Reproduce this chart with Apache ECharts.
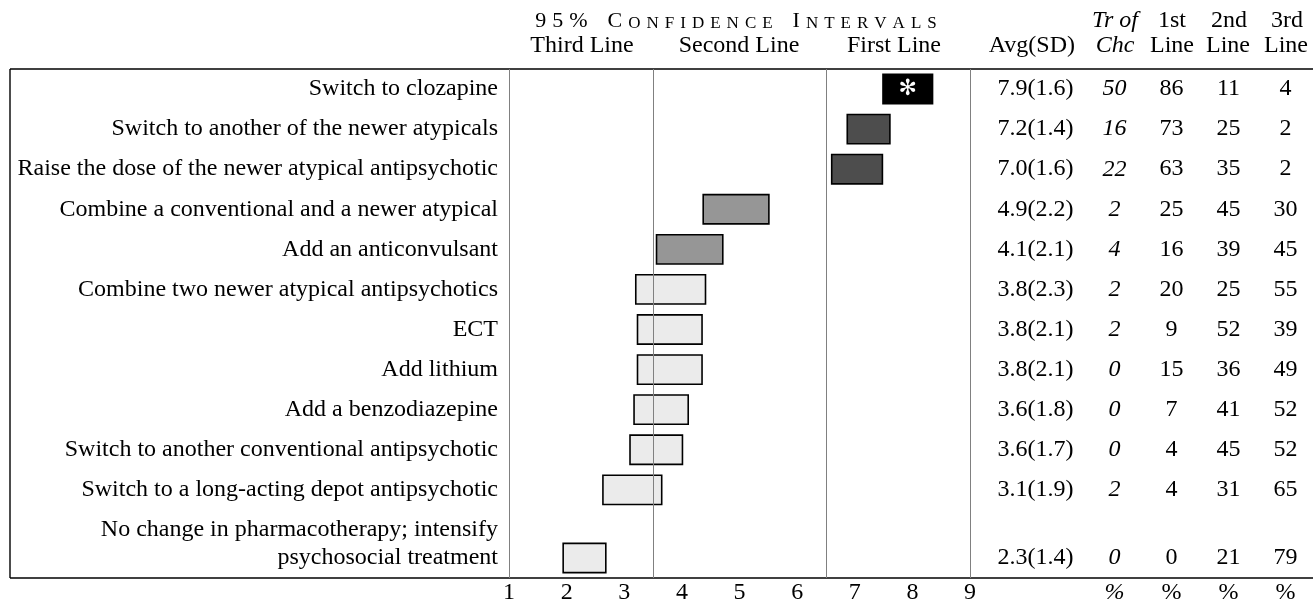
<!DOCTYPE html>
<html>
<head>
<meta charset="utf-8">
<script src="https://cdn.jsdelivr.net/npm/echarts@6/dist/echarts.min.js"></script>
<style>
  html, body { margin: 0; padding: 0; background: #fff; }
  #chart { width: 1313px; height: 600px; }
</style>
</head>
<body>
<div id="chart"></div>
<script>
// treatments, in the order they are listed
const treatments = [
  "Switch to clozapine",
  "Switch to another of the newer atypicals",
  "Raise the dose of the newer atypical antipsychotic",
  "Combine a conventional and a newer atypical",
  "Add an anticonvulsant",
  "Combine two newer atypical antipsychotics",
  "ECT",
  "Add lithium",
  "Add a benzodiazepine",
  "Switch to another conventional antipsychotic",
  "Switch to a long-acting depot antipsychotic",
  "No change in pharmacotherapy; intensify\npsychosocial treatment"
];
// 95% confidence intervals (low / high)
const ciLow = [7.49, 6.87, 6.60, 4.37, 3.56, 3.20, 3.23, 3.23, 3.17, 3.10, 2.63, 1.94];
const ciHigh = [8.35, 7.61, 7.48, 5.51, 4.71, 4.41, 4.35, 4.35, 4.11, 4.01, 3.65, 2.68];
const avg = [7.9, 7.2, 7.0, 4.9, 4.1, 3.8, 3.8, 3.8, 3.6, 3.6, 3.1, 2.3];
const sd = [1.6, 1.4, 1.6, 2.2, 2.1, 2.3, 2.1, 2.1, 1.8, 1.7, 1.9, 1.4];
const trOfChc = [50, 16, 22, 2, 4, 2, 2, 0, 0, 0, 2, 0];
const firstLine = [86, 73, 63, 25, 16, 20, 9, 15, 7, 4, 4, 0];
const secondLine = [11, 25, 35, 45, 39, 25, 52, 36, 41, 45, 31, 21];
const thirdLine = [4, 2, 2, 30, 45, 55, 39, 49, 52, 52, 65, 79];
const xTicks = [1, 2, 3, 4, 5, 6, 7, 8, 9];
const zoneBreaks = [1, 3.5, 6.5, 9];
const tableCols = ["Avg(SD)", "Tr of Chc", "1st Line", "2nd Line", "3rd Line"];

const SERIF = "'Liberation Serif', 'Times New Roman', serif";
const FS = 24;
const Y_MIN = -0.5, Y_MAX = 12.2;

// rows with a wrapped label take a bit more room
const rowPos = [];
treatments.forEach(function (t, i) {
  const extra = (t.split("\n").length - 1) * 0.7;
  rowPos.push(i === 0 ? 0 : rowPos[i - 1] + 1 + extra);
});

function barLevel(i) {
  if (trOfChc[i] >= 50) return "choice";
  if (ciLow[i] >= 6.5) return "first";
  if (ciLow[i] >= 3.5) return "second";
  return "third";
}
const fills = { choice: "#000000", first: "#4d4d4d", second: "#969696", third: "#ebebeb" };

// letter-spaced small caps: first letter of a word big, the rest small
function spacedCaps(words) {
  const parts = [];
  words.forEach(function (w, wi) {
    const chars = w.split("");
    chars.forEach(function (ch, ci) {
      const big = ci === 0 || /[0-9%]/.test(ch);
      parts.push("{" + (big ? "b" : "s") + "|" + ch + "}");
      if (ci < chars.length - 1) parts.push("{g| }");
    });
    if (wi < words.length - 1) parts.push("{G| }");
  });
  return parts.join("");
}
const capRich = {
  b: { fontFamily: SERIF, fontSize: 22, color: "#000", verticalAlign: "bottom", lineHeight: 24 },
  s: { fontFamily: SERIF, fontSize: 17, color: "#000", verticalAlign: "bottom", lineHeight: 24 },
  g: { fontSize: 4, width: 6, lineHeight: 24 },
  G: { fontSize: 4, width: 20, lineHeight: 24 }
};

var myChart = echarts.init(document.getElementById("chart"));

const yCommon = { type: "value", inverse: true, min: Y_MIN, max: Y_MAX, show: false };
const txt = function (s, x, y, align, italic) {
  return {
    type: "text", x: x, y: y,
    style: {
      text: s, align: align || "center", verticalAlign: "middle", fill: "#000",
      font: (italic ? "italic " : "") + FS + "px " + SERIF
    }
  };
};

myChart.setOption({
  animation: false,
  backgroundColor: "#fff",
  grid: [
    { left: 509, right: 343, top: 69, bottom: 22, containLabel: false, outerBoundsMode: "none" },
    { left: 1029, right: -1, top: 69, bottom: 22, containLabel: false, outerBoundsMode: "none" }
  ],
  xAxis: [
    {
      type: "value", gridIndex: 0, min: 1, max: 9, interval: 1,
      axisLine: { show: false }, axisTick: { show: false }, splitLine: { show: false },
      axisLabel: {
        margin: 3, color: "#000", fontFamily: SERIF, fontSize: FS,
        formatter: function (v) { return xTicks.indexOf(v) >= 0 ? String(v) : ""; }
      }
    },
    {
      type: "category", gridIndex: 1, data: tableCols,
      axisLine: { show: false }, axisTick: { show: false }, splitLine: { show: false },
      axisLabel: {
        interval: 0, margin: 3, color: "#000", fontFamily: SERIF, fontSize: FS,
        formatter: function (v, idx) { return idx === 0 ? "" : (idx === 1 ? "{i|%}" : "%"); },
        rich: { i: { fontStyle: "italic", fontFamily: SERIF, fontSize: FS, color: "#000" } }
      }
    }
  ],
  yAxis: [
    Object.assign({ gridIndex: 0 }, yCommon),
    Object.assign({ gridIndex: 1 }, yCommon)
  ],
  series: [
    {
      type: "custom",
      name: "ci",
      xAxisIndex: 0, yAxisIndex: 0,
      data: rowPos.map(function (p, i) { return [ciLow[i], ciHigh[i], p]; }),
      encode: { x: [0, 1], y: 2 },
      renderItem: function (params, api) {
        const i = params.dataIndex;
        const a = api.coord([api.value(0), api.value(2)]);
        const b = api.coord([api.value(1), api.value(2)]);
        const h = api.size([0, 0.73])[1];
        const lvl = barLevel(i);
        const children = [{
          type: "rect",
          shape: { x: a[0], y: a[1] - h / 2, width: b[0] - a[0], height: h },
          style: { fill: fills[lvl], stroke: "#000", lineWidth: 1.6 }
        }];
        if (lvl === "choice") {
          children.push({
            type: "text",
            style: {
              text: "\u273B", x: (a[0] + b[0]) / 2, y: a[1],
              align: "center", verticalAlign: "middle",
              fill: "#fff", font: "bold 22px 'DejaVu Sans'"
            }
          });
        }
        return { type: "group", children: children };
      },
      markLine: {
        silent: true, symbol: "none", label: { show: false },
        lineStyle: { color: "#808080", width: 1, type: "solid" },
        data: zoneBreaks.map(function (v) {
          return [{ coord: [v, Y_MIN] }, { coord: [v, Y_MAX] }];
        })
      },
      z: 3
    },
    {
      type: "custom",
      name: "labels",
      xAxisIndex: 0, yAxisIndex: 0,
      clip: false,
      data: rowPos.map(function (p) { return [1, p]; }),
      renderItem: function (params, api) {
        const i = params.dataIndex;
        const pt = api.coord([api.value(0), api.value(1)]);
        return {
          type: "text",
          style: {
            text: treatments[i], x: pt[0] - 11, y: pt[1] + 14,
            align: "right", verticalAlign: "bottom", lineHeight: 28,
            fill: "#000", font: FS + "px " + SERIF
          }
        };
      }
    },
    {
      type: "custom",
      name: "table",
      xAxisIndex: 1, yAxisIndex: 1,
      clip: false,
      data: rowPos.map(function (p) { return [0, p]; }),
      renderItem: function (params, api) {
        const i = params.dataIndex;
        const cells = [
          avg[i].toFixed(1) + "(" + sd[i].toFixed(1) + ")",
          String(trOfChc[i]),
          String(firstLine[i]),
          String(secondLine[i]),
          String(thirdLine[i])
        ];
        return {
          type: "group",
          children: cells.map(function (s, k) {
            const pt = api.coord([k, api.value(1)]);
            return {
              type: "text",
              style: {
                text: s, x: k === 0 ? pt[0] + 16 : pt[0], y: pt[1],
                align: k === 0 ? "right" : "center", verticalAlign: "middle",
                fill: "#000",
                font: (k === 1 ? "italic " : "") + FS + "px " + SERIF
              }
            };
          })
        };
      }
    }
  ],
  graphic: [
    // frame of the table
    { type: "line", shape: { x1: 10, y1: 69, x2: 1313, y2: 69 }, style: { stroke: "#000", lineWidth: 1.4 } },
    { type: "line", shape: { x1: 10, y1: 578, x2: 1313, y2: 578 }, style: { stroke: "#000", lineWidth: 1.4 } },
    { type: "line", shape: { x1: 10, y1: 69, x2: 10, y2: 578 }, style: { stroke: "#000", lineWidth: 1.4 } },
    // header over the intervals
    {
      type: "text", x: 736, y: 20,
      style: {
        text: spacedCaps(["95%", "CONFIDENCE", "INTERVALS"]),
        align: "center", verticalAlign: "middle",
        rich: capRich
      }
    },
    txt("Third Line", 582, 46),
    txt("Second Line", 739, 46),
    txt("First Line", 894, 46),
    // header over the table
    txt("Avg(SD)", 1075, 46, "right"),
    txt("Tr of", 1115, 21, "center", true),
    txt("Chc", 1115, 46, "center", true),
    txt("1st", 1172, 21),
    txt("Line", 1172, 46),
    txt("2nd", 1229, 21),
    txt("Line", 1228, 46),
    txt("3rd", 1287, 21),
    txt("Line", 1286, 46)
  ]
});

window.addEventListener("resize", function () {
  myChart.resize();
});
</script>
</body>
</html>
